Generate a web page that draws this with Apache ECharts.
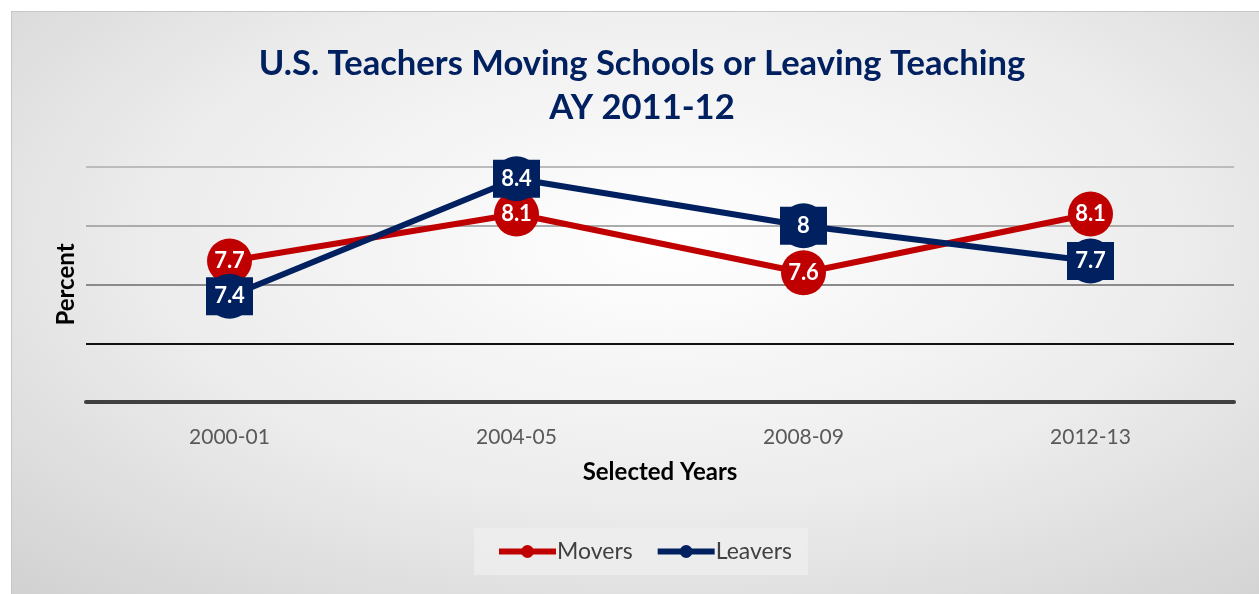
<!DOCTYPE html>
<html>
<head>
<meta charset="utf-8">
<script src="https://cdn.jsdelivr.net/npm/echarts@6/dist/echarts.min.js"></script>
<style>
  html, body { margin: 0; padding: 0; background: #ffffff; }
  #frame {
    position: absolute; left: 11px; top: 11px; width: 1260px; height: 600px;
    border: 1px solid #c6c6c6;
    background: radial-gradient(ellipse 75% 80% at 52% 38%, #ffffff 0%, #ececec 55%, #d2d2d2 100%);
  }
  #chart { position: absolute; left: 0; top: 0; width: 1259px; height: 594px; }
</style>
</head>
<body>
<div id="frame"></div>
<div id="chart"></div>
<script>
// selected years
const years = ['2000-01', '2004-05', '2008-09', '2012-13']
// percent of teachers
const movers = [7.7, 8.1, 7.6, 8.1]
const leavers = [7.4, 8.4, 8.0, 7.7]

const red = '#c00000'
const navy = '#002060'
const font = 'Lato'

const myChart = echarts.init(document.getElementById('chart'))

const option = {
  backgroundColor: 'transparent',
  textStyle: { fontFamily: font },
  title: {
    text: 'U.S. Teachers Moving Schools or Leaving Teaching\nAY 2011-12',
    left: 637,
    top: 37,
    textAlign: 'center',
    textStyle: {
      color: navy,
      fontSize: 34.6,
      fontWeight: 'bold',
      lineHeight: 44,
      fontFamily: font
    }
  },
  legend: {
    data: ['Movers', 'Leavers'],
    left: 474,
    top: 528,
    padding: [12, 16, 12, 22],
    itemGap: 22,
    itemWidth: 57,
    itemHeight: 16,
    lineStyle: { width: 6 },
    backgroundColor: 'rgba(240,240,240,0.7)',
    textStyle: { color: '#404040', fontSize: 23, fontFamily: font, padding: [0, 0, 0, -4] }
  },
  grid: {
    left: 86,
    right: 25,
    top: 167,
    bottom: 192
  },
  xAxis: {
    type: 'category',
    data: years,
    boundaryGap: true,
    name: 'Selected Years',
    nameLocation: 'middle',
    nameGap: 58,
    nameTextStyle: { color: '#000', fontSize: 24, fontWeight: 'bold' },
    axisLine: { lineStyle: { color: '#404040', width: 4 } },
    axisTick: { show: false },
    axisLabel: { color: '#595959', fontSize: 21, margin: 25 }
  },
  yAxis: {
    type: 'value',
    min: 6.5,
    max: 8.5,
    interval: 0.5,
    name: 'Percent',
    nameLocation: 'middle',
    nameRotate: 90,
    nameGap: 8,
    nameTextStyle: { color: '#000', fontSize: 24, fontWeight: 'bold' },
    axisLine: { show: false },
    axisTick: { show: false },
    axisLabel: { show: false },
    splitLine: {
      lineStyle: {
        color: ['#404040', '#111111', '#8a8a8a', '#acacac', '#bcbcbc'],
        width: 2
      }
    }
  },
  series: [
    {
      name: 'Movers',
      type: 'line',
      data: movers,
      color: red,
      symbol: 'circle',
      symbolSize: 45,
      lineStyle: { width: 6, color: red },
      itemStyle: { color: red },
      label: {
        show: true,
        position: 'inside',
        color: '#fff',
        fontSize: 22,
        fontWeight: 'bold'
      }
    },
    {
      name: 'Leavers',
      type: 'line',
      data: leavers,
      color: navy,
      symbol: 'circle',
      symbolSize: 45,
      lineStyle: { width: 6, color: navy },
      itemStyle: { color: navy },
      label: {
        show: true,
        position: 'inside',
        color: '#fff',
        fontSize: 22,
        fontWeight: 'bold',
        backgroundColor: navy,
        width: 47,
        height: 38,
        lineHeight: 38,
        align: 'center',
        verticalAlign: 'middle'
      }
    }
  ]
}

myChart.setOption(option)
</script>
</body>
</html>
